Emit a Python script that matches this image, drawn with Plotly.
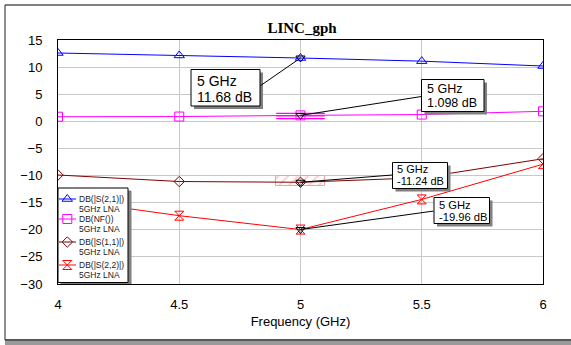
import plotly.graph_objects as go

# ---------------- data ----------------
freq = [4.0, 4.5, 5.0, 5.5, 6.0]
s21_db = [12.6, 12.15, 11.68, 11.1, 10.2]
nf_db = [0.85, 0.88, 1.098, 1.25, 1.85]
s11_db = [-9.9, -11.1, -11.24, -10.4, -6.9]
s22_db = [-14.3, -17.4, -19.96, -14.4, -7.9]

series_names = ["DB(|S(2,1)|)", "DB(NF())", "DB(|S(1,1)|)", "DB(|S(2,2)|)"]
doc_name = "5GHz LNA"
marker_freq = 5.0

nf_goal_x = [4.9, 5.1]
nf_goal_levels = [1.45, 1.0, 0.5]
s11_spec_x = [4.9, 5.1]
s11_spec_y = [-12.0, -10.0]

x_ticks = [4, 4.5, 5, 5.5, 6]
y_ticks = [15, 10, 5, 0, -5, -10, -15, -20, -25, -30]

# ---------------- styles ----------------
colors = ["#0000ff", "#ff00ff", "#800000", "#ff0000"]
symbols = ["triangle-up-open", "square-open", "diamond-open", "hourglass-open"]
msizes = [9, 9, 8, 9]
series = [s21_db, nf_db, s11_db, s22_db]

FONT = "Arial, Liberation Sans, sans-serif"
W, H = 571, 345
L, R, T, B = 58, 28, 40, 61
PW, PH = W - L - R, H - T - B
XR, YR = [4, 6], [-30, 15]


def px(x):
    return (x - L) / PW


def py(y):
    return (H - B - y) / PH


def data_to_pix(xv, yv):
    return (L + (xv - XR[0]) / (XR[1] - XR[0]) * PW,
            T + (YR[1] - yv) / (YR[1] - YR[0]) * PH)


fig = go.Figure()

# spec box (hatched) for S11
fig.add_trace(go.Bar(
    x=[(s11_spec_x[0] + s11_spec_x[1]) / 2], y=[s11_spec_y[1] - s11_spec_y[0]],
    base=[s11_spec_y[0]], width=[s11_spec_x[1] - s11_spec_x[0]],
    marker=dict(color="rgba(0,0,0,0)", line=dict(color="#ff9c9c", width=1),
                pattern=dict(shape="/", fgcolor="#ff8080", size=7, solidity=0.22)),
    showlegend=False, hoverinfo="skip"))

# NF goal lines
for lv in nf_goal_levels:
    fig.add_trace(go.Scatter(x=nf_goal_x, y=[lv, lv], mode="lines",
                             line=dict(color="#ff00ff", width=1.2),
                             showlegend=False, hoverinfo="skip"))

# series
for name, ys, c, s, ms in zip(series_names, series, colors, symbols, msizes):
    fig.add_trace(go.Scatter(
        x=freq, y=ys, mode="lines+markers", name=name,
        line=dict(color=c, width=1),
        marker=dict(symbol=s, size=ms, color=c, line=dict(width=1, color=c)),
        showlegend=False))

# marker-point triangles at 5 GHz
mk_vals = [ys[freq.index(marker_freq)] for ys in series]
fig.add_trace(go.Scatter(
    x=[marker_freq] * 4, y=mk_vals, mode="markers",
    marker=dict(symbol="triangle-down-open", size=8, color="black", line=dict(width=1, color="black")),
    showlegend=False, hoverinfo="skip"))

# ---------------- callout boxes ----------------
# box (left, top, right, bottom), arrow tail, text left, line centres, font size  (pixels)
callouts = [
    ((191, 69.5, 260, 106), (260, 86), 195.5, (80.5, 96.5), 14),
    ((421.5, 79.5, 484, 111.5), (421.5, 96.5), 425.5, (88.8, 102.8), 12.5),
    ((392.5, 162.5, 447.5, 188.5), (392.5, 175), 396, (169.3, 181.2), 11),
    ((434, 197.5, 489.5, 223.5), (434, 211), 437.5, (204.8, 217.2), 11.2),
]
for val, (box, tail, tx, (c1, c2), fs) in zip(mk_vals, callouts):
    bx0, by0, bx1, by1 = box
    ptx, pty = data_to_pix(marker_freq, val)
    # shadow + box
    fig.add_shape(type="rect", xref="paper", yref="paper", layer="above",
                  x0=px(bx0 + 3), x1=px(bx1 + 3), y0=py(by0 + 3), y1=py(by1 + 3),
                  fillcolor="#808080", line=dict(width=0))
    fig.add_shape(type="rect", xref="paper", yref="paper", layer="above",
                  x0=px(bx0), x1=px(bx1), y0=py(by0), y1=py(by1),
                  fillcolor="white", line=dict(width=1, color="black"))
    # leader line
    fig.add_annotation(x=marker_freq, y=val, xref="x", yref="y",
                       ax=tail[0] - ptx, ay=tail[1] - pty, text=" ", width=1, height=1,
                       borderpad=0, borderwidth=0, bgcolor="rgba(0,0,0,0)",
                       showarrow=True, arrowhead=0, arrowwidth=1, arrowcolor="black", standoff=0)
    for line_txt, cy in ((f"{marker_freq:g} GHz", c1), (f"{val:.4g} dB", c2)):
        fig.add_annotation(x=px(tx), y=py(cy), xref="paper", yref="paper",
                           xanchor="left", yanchor="middle", text=line_txt, showarrow=False,
                           borderpad=0, font=dict(family=FONT, size=fs, color="black"))

# ---------------- custom legend (overlay subplot in pixel units) ----------------
lx0, lx1, ly0, ly1 = 58, 128, 188, 282.5
fig.add_trace(go.Scatter(x=[lx0 + 3, lx1 + 3, lx1 + 3, lx0 + 3, lx0 + 3],
                         y=[ly0 + 3, ly0 + 3, ly1 + 3, ly1 + 3, ly0 + 3],
                         xaxis="x2", yaxis="y2", mode="lines", fill="toself",
                         fillcolor="#808080", line=dict(color="#808080", width=1),
                         showlegend=False, hoverinfo="skip"))
fig.add_trace(go.Scatter(x=[lx0, lx1, lx1, lx0, lx0], y=[ly0, ly0, ly1, ly1, ly0],
                         xaxis="x2", yaxis="y2", mode="lines", fill="toself",
                         fillcolor="white", line=dict(color="black", width=1),
                         showlegend=False, hoverinfo="skip"))
entry_y = [199, 219, 242, 265]
for name, c, s, ms, ey in zip(series_names, colors, symbols, msizes, entry_y):
    fig.add_trace(go.Scatter(x=[59, 76], y=[ey, ey], xaxis="x2", yaxis="y2", mode="lines",
                             line=dict(color=c, width=1), showlegend=False, hoverinfo="skip"))
    fig.add_trace(go.Scatter(x=[67.3], y=[ey], xaxis="x2", yaxis="y2", mode="markers",
                             marker=dict(symbol=s, size=ms, color=c, line=dict(width=1, color=c)),
                             showlegend=False, hoverinfo="skip"))
    for line_txt, dy in ((name, 0), (doc_name, 9.5)):
        fig.add_annotation(x=77.5, y=ey + dy, xref="x2", yref="y2", xanchor="left",
                           yanchor="middle", text=line_txt, align="left", showarrow=False,
                           font=dict(family=FONT, size=8.5, color="#202020"), borderpad=0)

# ---------------- outer frame ----------------
frame = [
    dict(x0=px(5), x1=px(575), y0=py(5), y1=py(5), color="#808080", width=2),
    dict(x0=px(5), x1=px(5), y0=py(5), y1=py(340), color="#202020", width=1),
    dict(x0=px(5), x1=px(575), y0=py(340), y1=py(340), color="#202020", width=1.5),
    dict(x0=px(5), x1=px(575), y0=py(343), y1=py(343), color="#9a9a9a", width=4),
]
for f in frame:
    fig.add_shape(type="line", xref="paper", yref="paper", x0=f["x0"], x1=f["x1"],
                  y0=f["y0"], y1=f["y1"], line=dict(color=f["color"], width=f["width"]))

fig.update_layout(
    width=W, height=H, margin=dict(l=L, r=R, t=T, b=B, autoexpand=False),
    paper_bgcolor="white", plot_bgcolor="rgba(0,0,0,0)", showlegend=False,
    font=dict(family=FONT, size=13, color="black"),
    title=dict(text="<b>LINC_gph</b>", x=px(302), xref="paper", xanchor="center",
               y=1 - 28 / H, yref="container", yanchor="middle",
               font=dict(family="Liberation Serif, Times New Roman, serif", size=15, color="black")),
    xaxis=dict(range=XR, tickvals=x_ticks, ticktext=[f"{v:g}" for v in x_ticks],
               showgrid=True, gridcolor="#c8c8c8", gridwidth=1, zeroline=False,
               showline=True, linecolor="black", linewidth=1, mirror=True, ticks="",
               ticklabelstandoff=8, tickfont=dict(size=13), automargin=False,
               title=dict(text="Frequency (GHz)", standoff=6, font=dict(size=13))),
    yaxis=dict(range=YR, tickvals=y_ticks, showgrid=True, gridcolor="#c8c8c8",
               gridwidth=1, zeroline=False, showline=True, linecolor="black", linewidth=1,
               mirror=True, ticks="", ticklabelstandoff=12, tickfont=dict(size=13),
               automargin=False),
    xaxis2=dict(domain=[0, 1], range=[L, W - R], visible=False, anchor="y2", fixedrange=True),
    yaxis2=dict(domain=[0, 1], range=[H - B, T], visible=False, anchor="x2", fixedrange=True),
    bargap=0,
)

fig.write_html("out.html", config={"displayModeBar": False},
               post_script="document.body.style.margin='0';document.body.style.overflow='hidden';")
